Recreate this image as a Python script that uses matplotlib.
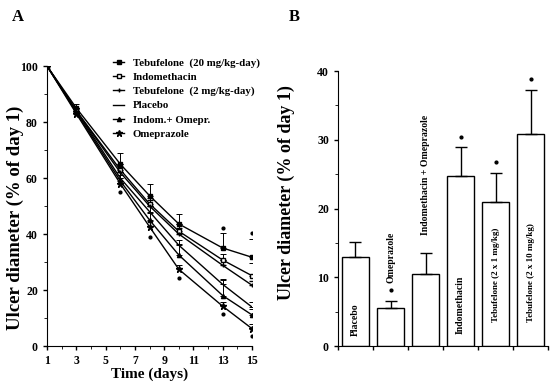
import numpy as np
import matplotlib.pyplot as plt

plt.rcParams['font.family'] = ['Liberation Serif', 'DejaVu Serif']
plt.rcParams['font.weight'] = 'bold'

# --- panel A data ---
days = [1, 3, 6, 8, 10, 13, 15]
teb20 = [100, 85, 65, 53.7, 43.6, 35.0, 31.7]
indo = [100, 84, 63, 50.8, 41.0, 30.7, 25.1]
teb2 = [100, 84, 62, 50.0, 40.0, 28.8, 21.7]
placebo = [100, 84, 60, 48.0, 36.0, 22.0, 13.9]
indo_omep = [100, 83.5, 59, 45.0, 32.5, 18.0, 11.1]
omep = [100, 83, 58, 42.6, 27.4, 14.2, 6.2]

teb20_err = [0, 1.5, 4, 4, 3.5, 5.5, 6.5]
indo_err = [0, 1, 2, 2, 2.5, 2, 4.5]
teb2_err = [0, 1, 2, 2, 2, 2, 1.5]
placebo_err = [0, 1, 2, 2, 2, 2, 1.8]
indo_omep_err = [0, 1, 2, 2.5, 4, 5.5, 2]
omep_err = [0, 1, 2, 2, 1.5, 1.5, 1.5]

sig_days = [6, 8, 10, 13, 13, 15, 15]
sig_vals = [55, 38.9, 24.2, 42, 11.5, 40.5, 3.5]

# --- panel B data ---
groups = ["Placebo", "Omeprazole", "Indomethacin + Omeprazole", "Indomethacin",
          "Tebufelone (2 x 1 mg/kg)", "Tebufelone (2 x 10 mg/kg)"]
bar_vals = [13.0, 5.6, 10.5, 24.8, 21.0, 30.8]
bar_err = [2.1, 1.0, 3.1, 4.1, 4.2, 6.5]
bar_sig = [False, True, False, True, True, True]

fig = plt.figure(figsize=(5.5, 3.83), dpi=100)

# ================= A =================
axA = fig.add_axes([0.0855, 0.0966, 0.3727, 0.731])
series = [
    ("Tebufelone  (20 mg/kg-day)", teb20, teb20_err, dict(marker='s', ms=3, mfc='black')),
    ("Indomethacin", indo, indo_err, dict(marker='s', ms=3, mfc='white')),
    ("Tebufelone  (2 mg/kg-day)", teb2, teb2_err, dict(marker='+', ms=3.5, mew=1)),
    ("Placebo", placebo, placebo_err, dict(marker=None)),
    ("Indom.+ Omepr.", indo_omep, indo_omep_err, dict(marker='^', ms=3, mfc='black')),
    ("Omeprazole", omep, omep_err, dict(marker='*', ms=4.5, mfc='black')),
]
handles = []
for name, vals, err, st in series:
    lo = np.zeros(len(err))
    h = axA.errorbar(days, vals, yerr=[lo, err], color='black', lw=1,
                     elinewidth=0.7, capsize=2, capthick=0.7, mec='black',
                     label=name, **st)
    handles.append(h)
axA.plot(sig_days, sig_vals, 'o', color='black', ms=2, ls='none')

axA.set_xlim(1, 15)
axA.set_ylim(0, 100)
axA.set_xticks([1, 3, 5, 7, 9, 11, 13, 15])
axA.set_xticks(range(1, 16), minor=True)
axA.set_yticks([0, 20, 40, 60, 80, 100])
axA.set_yticks(range(0, 101, 10), minor=True)
for s in ['top', 'right']:
    axA.spines[s].set_visible(False)
axA.tick_params(labelsize=8.5, width=1, length=3)
axA.tick_params(which='minor', length=2)
axA.set_xlabel("Time (days)", fontsize=11, fontweight='bold', labelpad=0)
fig.text(0.027, 0.43, "Ulcer diameter (% of day 1)", rotation=90,
         fontsize=13.5, fontweight='bold', ha='center', va='center')
leg = axA.legend(handles=[h[0] for h in handles],
                 labels=[s[0] for s in series],
                 loc='upper left', bbox_to_anchor=(0.188, 0.874),
                 bbox_transform=fig.transFigure, frameon=False,
                 fontsize=7.8, handlelength=1.0, handletextpad=0.8,
                 labelspacing=0.42)
fig.text(0.022, 0.955, "A", fontsize=12, fontweight='bold', va='center')

# ================= B =================
axB = fig.add_axes([0.6145, 0.0966, 0.382, 0.718])
x = np.arange(len(groups)) + 0.5
axB.bar(x, bar_vals, width=0.79, color='white', edgecolor='black', lw=1)
axB.errorbar(x, bar_vals, yerr=[np.zeros(len(bar_err)), bar_err], fmt='none',
             ecolor='black', elinewidth=1, capsize=4, capthick=1)
for xi, v, e, s in zip(x, bar_vals, bar_err, bar_sig):
    if s:
        axB.plot(xi, v + e + 1.5, 'o', color='black', ms=2)

# group labels
inside = {0: 1.5, 3: 1.8, 4: 3.5, 5: 3.5}
for i, name in enumerate(groups):
    if i in inside:
        y0 = inside[i]
        fs = 6.5 if i >= 4 else 7
    else:
        y0 = bar_vals[i] + bar_err[i] + 2.6
        fs = 7
    axB.text(x[i], y0, name, rotation=90, ha='center', va='bottom',
             fontsize=fs, fontweight='bold')

axB.set_xlim(0, 6)
axB.set_ylim(0, 40)
axB.set_xticks(range(0, 7))
axB.set_xticklabels([])
axB.set_yticks([0, 10, 20, 30, 40])
axB.set_yticks(range(0, 41, 5), minor=True)
for s in ['top', 'right']:
    axB.spines[s].set_visible(False)
axB.tick_params(labelsize=8.5, width=1, length=3)
axB.tick_params(which='minor', length=2)
fig.text(0.52, 0.496, "Ulcer diameter (% of day 1)", rotation=90,
         fontsize=13, fontweight='bold', ha='center', va='center')
fig.text(0.525, 0.955, "B", fontsize=12, fontweight='bold', va='center')

fig.savefig("out.png", dpi=100)
